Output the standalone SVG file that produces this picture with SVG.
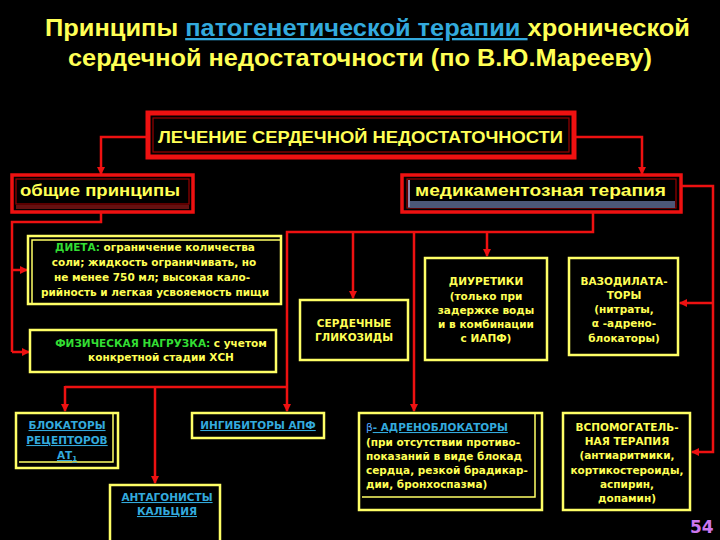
<svg xmlns="http://www.w3.org/2000/svg" width="720" height="540" viewBox="0 0 720 540">
<defs>
<marker id="arr" markerUnits="userSpaceOnUse" markerWidth="8" markerHeight="8" refX="7" refY="4" orient="auto">
<path d="M0,0 L8,4 L0,8 z" fill="#ee1111"/>
</marker>
<style>
.bg{fill:#000}
.title{font-family:"Liberation Sans",Arial,sans-serif;font-weight:bold;font-size:23px;fill:#ffff55}
.lnk{fill:#33aadd;text-decoration:underline}
.hdr{font-family:"Liberation Sans",Arial,sans-serif;font-weight:bold;font-size:17px;fill:#ffff55}
.redbox{fill:#000;stroke:#ee1111;stroke-width:3.5}
.redin{fill:none;stroke:#990000;stroke-width:1.2}
.ybox{fill:#000;stroke:#ffff66;stroke-width:2.5}
.yin{fill:none;stroke:#ffff66;stroke-width:1.5}
.t{font-family:"DejaVu Sans",Verdana,sans-serif;font-weight:bold;font-size:10.5px;fill:#ffff55}
.c{text-anchor:middle}
.g{fill:#33dd33}
.b{fill:#33aadd;text-decoration:underline}
.con{fill:none;stroke:#ee1111;stroke-width:2.5}
.pg{font-family:"DejaVu Sans",Verdana,sans-serif;font-weight:bold;font-size:17px;fill:#cc77ee}
</style>
</defs>
<rect class="bg" x="0" y="0" width="720" height="540"/>

<g id="title">
<text class="title" x="45" y="36" textLength="645" lengthAdjust="spacingAndGlyphs">Принципы <tspan class="lnk">патогенетической терапии </tspan>хронической</text>
<text class="title" x="68" y="66" textLength="584" lengthAdjust="spacingAndGlyphs">сердечной недостаточности (по В.Ю.Марееву)</text>
</g>

<g id="connectors">
<polyline class="con" points="148,137 101,137 101,174" marker-end="url(#arr)"/>
<polyline class="con" points="574,137 642,137 642,174" marker-end="url(#arr)"/>
<polyline class="con" points="101,212 101,222 12,222 12,352"/>
<line class="con" x1="12" y1="270" x2="27" y2="270" marker-end="url(#arr)"/>
<line class="con" x1="12" y1="352" x2="29" y2="352" marker-end="url(#arr)"/>
<polyline class="con" points="593,212 593,232 287,232 287,411" marker-end="url(#arr)"/>
<line class="con" x1="353" y1="232" x2="353" y2="298" marker-end="url(#arr)"/>
<line class="con" x1="414" y1="232" x2="414" y2="411" marker-end="url(#arr)"/>
<line class="con" x1="487" y1="232" x2="487" y2="256" marker-end="url(#arr)"/>
<line class="con" x1="65" y1="387" x2="287" y2="387"/>
<line class="con" x1="65" y1="386" x2="65" y2="411" marker-end="url(#arr)"/>
<line class="con" x1="155" y1="387" x2="155" y2="483" marker-end="url(#arr)"/>
<polyline class="con" points="681,186 713,186 713,452 692,452" marker-end="url(#arr)"/>
<line class="con" x1="713" y1="303" x2="680" y2="303" marker-end="url(#arr)"/>
</g>

<g id="n-treatment">
<rect class="redbox" x="148" y="113" width="426" height="44" style="stroke-width:5"/>
<rect class="redin" x="153" y="118" width="416" height="34"/>
<text class="hdr" x="158" y="143" textLength="405" lengthAdjust="spacingAndGlyphs">ЛЕЧЕНИЕ СЕРДЕЧНОЙ НЕДОСТАТОЧНОСТИ</text>
</g>

<g id="n-general">
<rect class="redbox" x="12" y="175" width="181" height="37"/>
<rect class="redin" x="16" y="179" width="173" height="25"/>
<rect x="16" y="205" width="173" height="4" fill="#661111"/>
<text class="hdr" x="20" y="196" textLength="160" lengthAdjust="spacingAndGlyphs">общие принципы</text>
</g>

<g id="n-drug">
<rect class="redbox" x="402" y="175" width="279" height="37"/>
<rect class="redin" x="407" y="179" width="269" height="29"/>
<rect x="408" y="201" width="267" height="7" fill="#4c5878"/>
<line x1="409" y1="180" x2="409" y2="207" stroke="#8888aa" stroke-width="2"/>
<text class="hdr" x="415" y="196" textLength="251" lengthAdjust="spacingAndGlyphs">медикаментозная терапия</text>
</g>

<g id="n-diet">
<rect class="ybox" x="28" y="236" width="253" height="68"/>
<polyline class="yin" points="32,303 32,240 281,240"/>
<text class="t c" x="155" y="251"><tspan class="g">ДИЕТА:</tspan> ограничение количества</text>
<text class="t c" x="154" y="266">соли; жидкость ограничивать, но</text>
<text class="t c" x="152" y="281">не менее 750 мл; высокая кало-</text>
<text class="t c" x="155" y="296">рийность и легкая усвояемость пищи</text>
</g>

<g id="n-physical">
<rect class="ybox" x="30" y="330" width="246" height="42"/>
<text class="t c" x="161" y="347"><tspan class="g">ФИЗИЧЕСКАЯ НАГРУЗКА:</tspan> с учетом</text>
<text class="t c" x="161" y="361">конкретной стадии ХСН</text>
</g>

<g id="n-glycosides">
<rect class="ybox" x="300" y="300" width="108" height="60"/>
<text class="t c" x="354" y="327">СЕРДЕЧНЫЕ</text>
<text class="t c" x="354" y="341">ГЛИКОЗИДЫ</text>
</g>

<g id="n-diuretics">
<rect class="ybox" x="425" y="258" width="122" height="102"/>
<text class="t c" x="486" y="285">ДИУРЕТИКИ</text>
<text class="t c" x="486" y="300">(только при</text>
<text class="t c" x="486" y="314">задержке воды</text>
<text class="t c" x="486" y="328">и в комбинации</text>
<text class="t c" x="486" y="342">с ИАПФ)</text>
</g>

<g id="n-vasodilators">
<rect class="ybox" x="569" y="258" width="109" height="97"/>
<text class="t c" x="624" y="285">ВАЗОДИЛАТА-</text>
<text class="t c" x="624" y="299">ТОРЫ</text>
<text class="t c" x="624" y="313">(нитраты,</text>
<text class="t c" x="624" y="327">α -адрено-</text>
<text class="t c" x="624" y="342">блокаторы)</text>
</g>

<g id="n-at1">
<rect class="ybox" x="16" y="413" width="102" height="55"/>
<polyline class="yin" points="19,462 113,462 113,414"/>
<text class="t c" x="67" y="429"><tspan class="b">БЛОКАТОРЫ</tspan></text>
<text class="t c" x="67" y="444"><tspan class="b">РЕЦЕПТОРОВ</tspan></text>
<text class="t c" x="67" y="459"><tspan class="b">АТ</tspan><tspan class="b" font-size="7" dy="2">1</tspan></text>
</g>

<g id="n-ace">
<rect class="ybox" x="192" y="413" width="132" height="25"/>
<text class="t c" x="258" y="429"><tspan class="b">ИНГИБИТОРЫ АПФ</tspan></text>
</g>

<g id="n-calcium">
<rect class="ybox" x="110" y="485" width="110" height="62"/>
<text class="t c" x="167" y="501"><tspan class="b">АНТАГОНИСТЫ</tspan></text>
<text class="t c" x="167" y="515"><tspan class="b">КАЛЬЦИЯ</tspan></text>
</g>

<g id="n-beta">
<rect class="ybox" x="359" y="413" width="183" height="97"/>
<polyline class="yin" points="362,497 535,497 535,414"/>
<text class="t" x="366" y="431"><tspan fill="#55aaff" font-weight="normal">β</tspan><tspan class="b">- АДРЕНОБЛОКАТОРЫ</tspan></text>
<text class="t" x="366" y="446">(при отсутствии противо-</text>
<text class="t" x="366" y="460">показаний в виде блокад</text>
<text class="t" x="366" y="474">сердца, резкой брадикар-</text>
<text class="t" x="366" y="488">дии, бронхоспазма)</text>
</g>

<g id="n-auxiliary">
<rect class="ybox" x="563" y="413" width="127" height="97"/>
<text class="t c" x="627" y="431">ВСПОМОГАТЕЛЬ-</text>
<text class="t c" x="627" y="445">НАЯ ТЕРАПИЯ</text>
<text class="t c" x="627" y="459">(антиаритмики,</text>
<text class="t c" x="627" y="474">кортикостероиды,</text>
<text class="t c" x="627" y="488">аспирин,</text>
<text class="t c" x="627" y="502">допамин)</text>
</g>

<text class="pg" x="690" y="533">54</text>
</svg>
